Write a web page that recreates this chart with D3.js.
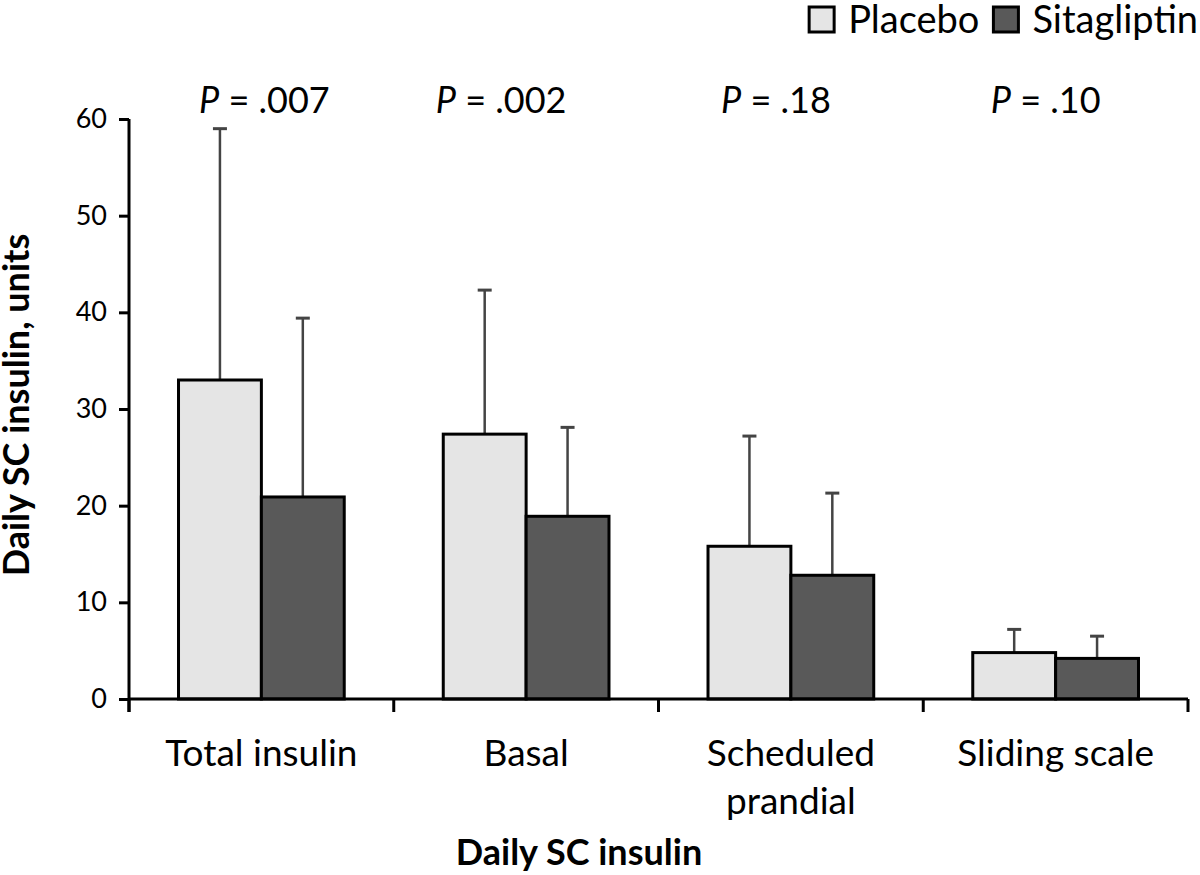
<!DOCTYPE html>
<html>
<head>
<meta charset="utf-8">
<script src="https://cdn.jsdelivr.net/npm/d3@7"></script>
<style>
  html, body { margin: 0; padding: 0; background: #fff; }
  svg { display: block; font-family: Lato, "Open Sans", sans-serif; }
</style>
</head>
<body>
<svg id="chart" width="1200" height="875"></svg>
<script>
// ---- data ----
const categories = [["Total insulin"], ["Basal"], ["Scheduled", "prandial"], ["Sliding scale"]];
const seriesNames = ["Placebo", "Sitagliptin"];
const placeboMean = [33.0, 27.4, 15.8, 4.8];
const placeboSD = [26.0, 14.9, 11.4, 2.4];
const sitagliptinMean = [20.9, 18.9, 12.8, 4.2];
const sitagliptinSD = [18.5, 9.2, 8.5, 2.3];
const pValues = ["= .007", "= .002", "= .18", "= .10"];
const yTicks = [0, 10, 20, 30, 40, 50, 60];

// ---- layout / style ----
const colors = ["#e5e5e5", "#595959"];
const pLabelShift = [3, -25, -15, -10];
const svg = d3.select("#chart");
const plotLeft = 129, plotRight = 1188, plotTop = 119, plotBottom = 699;

const catIdx = categories.map((d, i) => i);
const x0 = d3.scaleBand().domain(catIdx).range([plotLeft, plotRight]).padding(0);
const bw = x0.bandwidth();
const x1 = d3.scaleBand().domain([0, 1]).range([bw * 0.187, bw * 0.813]).padding(0);
const y = d3.scaleLinear().domain([0, 60]).range([plotBottom, plotTop]);

const data = catIdx.map(i => [
  { s: 0, m: placeboMean[i], sd: placeboSD[i] },
  { s: 1, m: sitagliptinMean[i], sd: sitagliptinSD[i] }
]);

// error bars (drawn first, bars on top)
const groups = svg.append("g").selectAll("g").data(data).join("g")
  .attr("transform", (d, i) => `translate(${x0(i)},0)`);

groups.selectAll("line.err").data(d => d).join("line")
  .attr("class", "err")
  .attr("x1", d => x1(d.s) + x1.bandwidth() / 2)
  .attr("x2", d => x1(d.s) + x1.bandwidth() / 2)
  .attr("y1", d => y(d.m))
  .attr("y2", d => y(d.m + d.sd))
  .attr("stroke", "#444").attr("stroke-width", 2.5);
groups.selectAll("line.cap").data(d => d).join("line")
  .attr("class", "cap")
  .attr("x1", d => x1(d.s) + x1.bandwidth() / 2 - 7)
  .attr("x2", d => x1(d.s) + x1.bandwidth() / 2 + 7)
  .attr("y1", d => y(d.m + d.sd))
  .attr("y2", d => y(d.m + d.sd))
  .attr("stroke", "#444").attr("stroke-width", 3);

groups.selectAll("rect").data(d => d).join("rect")
  .attr("x", d => x1(d.s))
  .attr("width", x1.bandwidth())
  .attr("y", d => y(d.m))
  .attr("height", d => y(0) - y(d.m))
  .attr("fill", d => colors[d.s])
  .attr("stroke", "#000").attr("stroke-width", 3);

// y axis
const yAxis = svg.append("g").attr("transform", `translate(${plotLeft},0)`)
  .call(d3.axisLeft(y).tickValues(yTicks).tickSize(10).tickPadding(12).tickFormat(d3.format("d")));
yAxis.select(".domain").attr("d", `M0,${plotTop}V${plotBottom + 13}`).attr("stroke", "#000").attr("stroke-width", 3);
yAxis.selectAll(".tick line").attr("stroke", "#000").attr("stroke-width", 3);
yAxis.selectAll(".tick text").attr("font-size", 27).attr("fill", "#000").attr("font-family", "Lato");

// x axis
const xLine = svg.append("g");
xLine.append("line").attr("x1", plotLeft).attr("x2", plotRight).attr("y1", plotBottom).attr("y2", plotBottom)
  .attr("stroke", "#000").attr("stroke-width", 3);
const boundaries = catIdx.map(i => x0(i)).concat([plotRight]);
xLine.selectAll("line.xt").data(boundaries).join("line").attr("class", "xt")
  .attr("x1", d => d).attr("x2", d => d).attr("y1", plotBottom).attr("y2", plotBottom + 13)
  .attr("stroke", "#000").attr("stroke-width", 3);

// category labels
const catLabels = svg.append("g").selectAll("text").data(categories).join("text")
  .attr("x", (d, i) => x0(i) + bw / 2)
  .attr("y", 766)
  .attr("text-anchor", "middle")
  .attr("font-size", 37).attr("fill", "#000");
catLabels.selectAll("tspan").data(d => d).join("tspan")
  .attr("x", function () { return this.parentNode.getAttribute("x"); })
  .attr("dy", (d, i) => i === 0 ? 0 : 48)
  .text(d => d);

// P labels
const pl = svg.append("g").selectAll("text").data(pValues).join("text")
  .attr("x", (d, i) => x0(i) + bw / 2 + pLabelShift[i])
  .attr("y", 113)
  .attr("text-anchor", "middle")
  .attr("font-size", 36).attr("fill", "#000");
pl.append("tspan").attr("font-style", "italic").text("P");
pl.append("tspan").text(d => " " + d);

// axis titles
svg.append("text")
  .attr("transform", `translate(29,405) rotate(-90)`)
  .attr("text-anchor", "middle")
  .attr("font-size", 36).attr("font-weight", "bold").attr("fill", "#000")
  .text("Daily SC insulin, units");
svg.append("text")
  .attr("x", 579).attr("y", 865)
  .attr("text-anchor", "middle")
  .attr("font-size", 36).attr("font-weight", "bold").attr("fill", "#000")
  .text("Daily SC insulin");

// legend (right aligned)
const legend = svg.append("g");
let cursor = 1198;
for (let i = seriesNames.length - 1; i >= 0; i--) {
  const t = legend.append("text").attr("y", 33).attr("font-size", 38).attr("fill", "#000")
    .text(seriesNames[i]);
  const w = t.node().getComputedTextLength();
  t.attr("x", cursor - w);
  const bx = cursor - w - 14 - 25;
  legend.append("rect").attr("x", bx).attr("y", 7).attr("width", 25).attr("height", 25)
    .attr("fill", colors[i]).attr("stroke", "#000").attr("stroke-width", 3);
  cursor = bx - 14;
}
</script>
</body>
</html>
